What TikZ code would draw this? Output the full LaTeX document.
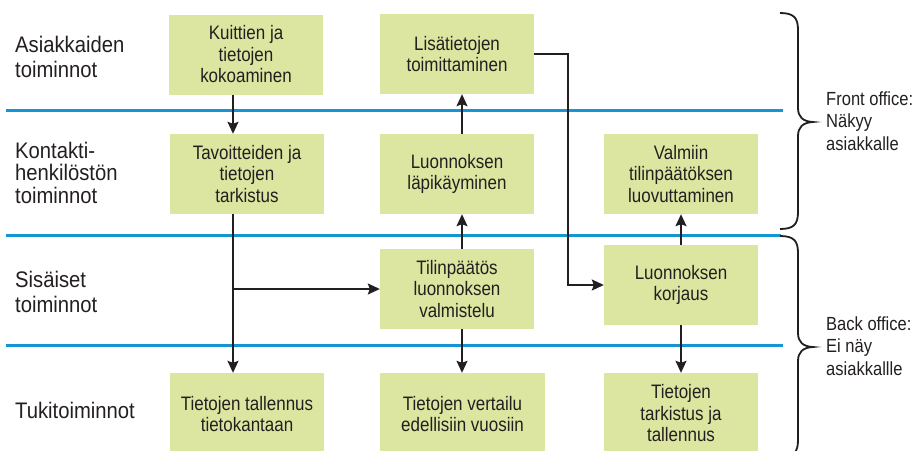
\documentclass[tikz,border=0pt]{standalone}
\usepackage{fontspec}
\newfontfamily\diafont[FakeStretch=0.87]{Liberation Sans}
\newfontfamily\lanefont[FakeStretch=0.9]{Liberation Sans}
\usetikzlibrary{arrows.meta}
\definecolor{boxfill}{RGB}{220,230,160}
\definecolor{laneblue}{RGB}{20,150,212}
\definecolor{ink}{RGB}{35,31,32}
\tikzset{
  box/.style={fill=boxfill, draw=none, minimum width=154pt, minimum height=80pt, align=center, inner sep=0pt,
    text=ink, font={\diafont\fontsize{19.5}{21.5}\selectfont}},
  lane/.style={draw=laneblue, line width=3pt},
  arr/.style={draw=ink, line width=1.6pt, -{Stealth[length=12pt,width=11pt,inset=2pt]}},
  brace/.style={draw=ink, line width=1.8pt},
  lanelabel/.style={anchor=base west, align=left, inner sep=0pt, text=ink},
  sidelabel/.style={anchor=base west, align=left, inner sep=0pt, text=ink,
    font={\diafont\fontsize{19}{22.5}\selectfont}},
}
\begin{document}
\begin{tikzpicture}[x=1pt,y=-1pt]
\useasboundingbox (0,0) rectangle (917,450);
% lanes
\draw[lane] (6,110) -- (783,110);
\draw[lane] (6,235) -- (781,235);
\draw[lane] (6,345) -- (783,345);
% lane labels (anchored at last baseline)
\node[lanelabel, font={\lanefont\fontsize{22.5}{25}\selectfont}] (l1) at (15,77) {Asiakkaiden\\toiminnot};
\node[lanelabel, font={\lanefont\fontsize{22.5}{22.5}\selectfont}] (l2) at (15,203) {Kontakti-\\henkilöstön\\toiminnot};
\node[lanelabel, font={\lanefont\fontsize{22.5}{25}\selectfont}] (l3) at (15,312) {Sisäiset\\toiminnot};
\node[lanelabel, font={\lanefont\fontsize{22.5}{25}\selectfont}] (l4) at (15,418) {Tukitoiminnot};
% boxes
\node[box] (b1) at (246,54.5) {Kuittien ja\\tietojen\\kokoaminen};
\node[box] (b2) at (247,174) {Tavoitteiden ja\\tietojen\\tarkistus};
\node[box] (b3) at (457,54) {Lisätietojen\\toimittaminen};
\node[box] (b5) at (457,174) {Luonnoksen\\läpikäyminen};
\node[box] (b9) at (681,174) {Valmiin\\tilinpäätöksen\\luovuttaminen};
\node[box] (b6) at (457,289) {Tilinpäätös\\luonnoksen\\valmistelu};
\node[box] (b8) at (681,285) {Luonnoksen\\korjaus};
\node[box, minimum height=82pt] (b4) at (247,414) {Tietojen tallennus\\tietokantaan};
\node[box, minimum height=82pt, minimum width=165pt] (b7) at (462.5,414) {Tietojen vertailu\\edellisiin vuosiin};
\node[box, minimum height=81pt] (b10) at (681,413.5) {Tietojen\\tarkistus ja\\tallennus};
% connectors
\draw[arr] ([xshift=-13pt]b1.south) -- ([xshift=-13pt]b1.south |- b2.north);
\draw[arr] ([xshift=-14pt]b2.south) -- ([xshift=-14pt]b2.south |- b4.north);
\coordinate (br) at ([xshift=-14pt]b2.south |- b6.west);
\draw[arr] (br) -- (b6.west);
\draw[arr] ([xshift=5pt]b6.north) -- ([xshift=5pt]b5.south);
\draw[arr] ([xshift=5pt]b5.north) -- ([xshift=5pt]b3.south);
\draw[arr] ([xshift=5pt]b6.south) -- ([xshift=5pt]b6.south |- b7.north);
\coordinate (turn) at (568,0);
\draw[arr] (b3.east) -| (turn |- b8.west) -- (b8.west);
\draw[arr] (b8.north) -- (b9.south);
\draw[arr] (b8.south) -- (b10.north);
% braces
\draw[brace] (780,13) .. controls (794,13) and (798,18) .. (798,30) -- (798,108)
  .. controls (798,117) and (803,121.5) .. (813,122)
  .. controls (803,122.5) and (798,127) .. (798,136) -- (798,212)
  .. controls (798,224) and (794,229) .. (780,229);
\draw[brace] (780,236) .. controls (794,236) and (798,241) .. (798,253) -- (798,333)
  .. controls (798,342) and (803,346.5) .. (813,347)
  .. controls (803,347.5) and (798,352) .. (798,361) -- (798,440)
  .. controls (798,452) and (794,457) .. (780,457);
% side labels (anchored at last baseline)
\node[sidelabel] (f1) at (826,150) {Front office:\\Näkyy\\asiakkalle};
\node[sidelabel] (f2) at (826,375) {Back office:\\Ei näy\\asiakkallle};
\end{tikzpicture}
\end{document}
